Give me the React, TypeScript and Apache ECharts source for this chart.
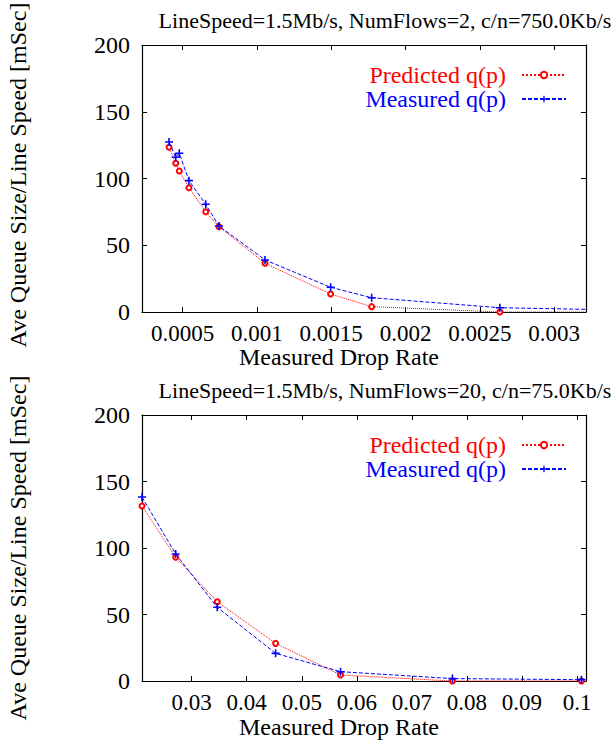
import React, { useEffect, useRef } from "react";
import * as echarts from "echarts";

// ---- data ----
const topDropRate = [0.000408, 0.000453, 0.000477, 0.000542, 0.000655, 0.000744, 0.001054, 0.001496, 0.001772, 0.002635, 0.0033];
const topPredicted = [123.4, 111.4, 105.6, 93.1, 75.1, 63.9, 36.5, 13.5, 4, 0, 0];
const topMeasured = [127.3, 115.9, 118.9, 98.4, 80.7, 64.4, 39, 18.5, 10.7, 3.2, 1.8];

const bottomDropRate = [0.02098, 0.0271, 0.03465, 0.04525, 0.05704, 0.07737, 0.1008];
const bottomPredicted = [131.6, 93, 59.6, 28.3, 4.5, 0, 0];
const bottomMeasured = [138.3, 95.5, 55.4, 20.8, 7, 1.8, 1];

const topTitle = "LineSpeed=1.5Mb/s, NumFlows=2, c/n=750.0Kb/s";
const bottomTitle = "LineSpeed=1.5Mb/s, NumFlows=20, c/n=75.0Kb/s";
const xName = "Measured Drop Rate";
const yName = "Ave Queue Size/Line Speed [mSec]";
const predName = "Predicted q(p)";
const measName = "Measured q(p)";

const FONT = "Liberation Serif";
const FS = 24;

const pairs = (xs: number[], ys: number[]) => xs.map((x, i) => [x, ys[i]]);

const plusPath = "path://M4,0 H6 V4 H10 V6 H6 V10 H4 V6 H0 V4 H4 Z";

export default function App() {
  const ref = useRef<HTMLDivElement>(null);
  useEffect(() => {
    document.body.style.margin = "0";
    const chart = echarts.init(ref.current!, null, { renderer: "svg" });
    const grids = [
      { left: 142, top: 45, width: 444, height: 267 },
      { left: 142, top: 415, width: 444, height: 266 },
    ];
    const xRanges = [
      { min: 0.000226, max: 0.003215, splitNumber: 5 },
      { min: 0.02098, max: 0.10163, splitNumber: 8 },
    ];
    const xAxes: any[] = [];
    const yAxes: any[] = [];
    grids.forEach((_, g) => {
      const base = {
        type: "value",
        gridIndex: g,
        ...xRanges[g],
        splitLine: { show: false },
        axisLine: { show: true, onZero: false, lineStyle: { color: "#000", width: 1.2 } },
        axisTick: { show: true, inside: true, length: 5, lineStyle: { color: "#000" } },
      };
      xAxes.push({
        ...base,
        position: "bottom",
        axisLabel: {
          show: true,
          margin: 10,
          color: "#000",
          fontFamily: FONT,
          fontSize: 23,
          showMinLabel: false,
          showMaxLabel: false,
        },
      });
      xAxes.push({ ...base, position: "top", axisLabel: { show: false } });
      const ybase = {
        type: "value",
        gridIndex: g,
        min: 0,
        max: 200,
        interval: 50,
        splitLine: { show: false },
        axisLine: { show: true, onZero: false, lineStyle: { color: "#000", width: 1.2 } },
        axisTick: { show: true, inside: true, length: 5, lineStyle: { color: "#000" } },
      };
      yAxes.push({
        ...ybase,
        position: "left",
        axisLabel: { show: true, margin: 12, color: "#000", fontFamily: FONT, fontSize: FS },
      });
      yAxes.push({ ...ybase, position: "right", axisLabel: { show: false } });
    });

    const mkSeries = (g: number, xs: number[], pred: number[], meas: number[]) => [
      {
        name: predName,
        type: "line",
        xAxisIndex: g * 2,
        yAxisIndex: g * 2,
        data: pairs(xs, pred),
        symbol: "emptyCircle",
        symbolSize: 5,
        itemStyle: { color: "#ff0000", borderColor: "#ff0000", borderWidth: 1.2 },
        lineStyle: { color: "#ff0000", width: 1, type: "dotted" },
        z: 3,
      },
      {
        name: measName,
        type: "line",
        xAxisIndex: g * 2,
        yAxisIndex: g * 2,
        data: pairs(xs, meas),
        symbol: plusPath,
        symbolSize: 8,
        itemStyle: { color: "#0000ff" },
        lineStyle: { color: "#0000ff", width: 1, type: [4, 2] },
        z: 4,
      },
    ];

    const mkLegend = (top: number) => ({
      right: 43,
      top,
      orient: "vertical",
      align: "right",
      itemWidth: 44,
      itemHeight: 8,
      itemGap: 0,
      data: [
        { name: predName, textStyle: { color: "#ff0000" } },
        { name: measName, textStyle: { color: "#0000ff" } },
      ],
      textStyle: { fontFamily: FONT, fontSize: FS, lineHeight: 24, padding: [0, 11, 0, 0] },
      selectedMode: false,
    });

    const txt = (x: number, y: number, text: string, size: number, rot = 0) => ({
      type: "text",
      x,
      y,
      rotation: rot,
      style: {
        text,
        fill: "#000",
        font: `${size}px "${FONT}"`,
        textAlign: "center",
        textVerticalAlign: "middle",
      },
    });

    chart.setOption({
      animation: false,
      backgroundColor: "#fff",
      grid: grids,
      xAxis: xAxes,
      yAxis: yAxes,
      legend: [mkLegend(58), mkLegend(428)],
      series: [
        ...mkSeries(0, topDropRate, topPredicted, topMeasured),
        ...mkSeries(1, bottomDropRate, bottomPredicted, bottomMeasured),
      ],
      graphic: [
        txt(385, 20, topTitle, 22),
        txt(385, 390, bottomTitle, 22),
        txt(339, 357, xName, FS),
        txt(339, 727, xName, FS),
        txt(18, 175, yName, FS, Math.PI / 2),
        txt(18, 548, yName, FS, Math.PI / 2),
      ],
    });
    return () => chart.dispose();
  }, []);
  return <div ref={ref} style={{ width: 615, height: 747 }} />;
}
